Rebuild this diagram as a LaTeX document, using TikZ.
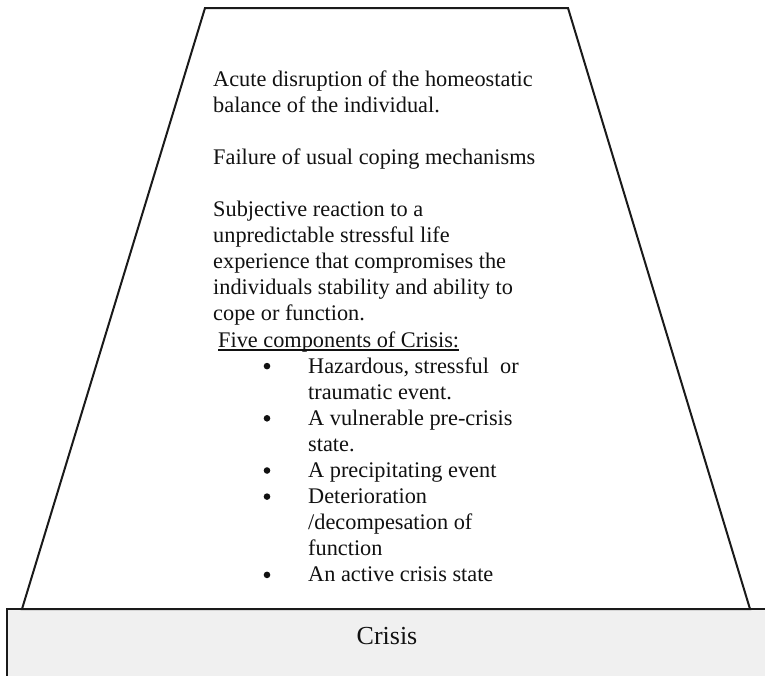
\documentclass[tikz,border=0pt]{standalone}
\usepackage{fontspec}
\setmainfont{Liberation Serif}
\definecolor{inkline}{HTML}{1A1A1A}
\definecolor{inktext}{HTML}{111111}
\definecolor{basefill}{HTML}{F0F0F0}
\begin{document}
\begin{tikzpicture}[x=1pt,y=-1pt,
  edge/.style={draw=inkline,line width=2pt,line join=miter},
  body/.style={anchor=base west,inner sep=0pt,text=inktext,
    font=\fontsize{22.3}{26.1}\selectfont},
  dot/.style={circle,fill=inktext,inner sep=0pt,minimum size=6.6pt},
  label/.style={anchor=base,inner sep=0pt,text=inktext,
    font=\fontsize{26}{30}\selectfont}]
\useasboundingbox (0,0) rectangle (765,675);

% base block
\path[edge,fill=basefill] (7,609) rectangle (780,690);
\node[label] (crisis) at (387,644) {Crisis};

% trapezoid
\path[edge,fill=white] (205,8) -- (568,8) -- (750,609) -- (22,609) -- cycle;

% descriptive paragraphs, baselines every 26.1
\node[body] (p1a) at (213,86.0)  {Acute disruption of the homeostatic};
\node[body] (p1b) at (213,112.1) {balance of the individual.};
\node[body] (p2)  at (213,164.3) {Failure of usual coping mechanisms};
\node[body] (p3a) at (213,216.5) {Subjective reaction to a};
\node[body] (p3b) at (213,242.6) {unpredictable stressful life};
\node[body] (p3c) at (213,268.7) {experience that compromises the};
\node[body] (p3d) at (213,294.8) {individuals stability and ability to};
\node[body] (p3e) at (213,320.9) {cope or function.};

% heading
\node[body] (head) at (218,347.0) {Five components of Crisis:};
\draw[inktext,line width=1.1pt] ([yshift=-3pt]head.base west) -- ([yshift=-3pt]head.base east);

% bullet list (dots sit 7 above each baseline)
\node[dot] (b1) at (267,366.1) {};
\node[body] (i1a) at (308,373.1) {Hazardous, stressful\ \ or};
\node[body] (i1b) at (308,399.2) {traumatic event.};
\node[dot] (b2) at (267,418.3) {};
\node[body] (i2a) at (308,425.3) {A vulnerable pre-crisis};
\node[body] (i2b) at (308,451.4) {state.};
\node[dot] (b3) at (267,470.5) {};
\node[body] (i3)  at (308,477.5) {A precipitating event};
\node[dot] (b4) at (267,496.6) {};
\node[body] (i4a) at (308,503.6) {Deterioration};
\node[body] (i4b) at (308,529.7) {/decompesation of};
\node[body] (i4c) at (308,555.8) {function};
\node[dot] (b5) at (267,574.9) {};
\node[body] (i5)  at (308,581.9) {An active crisis state};
\end{tikzpicture}
\end{document}
